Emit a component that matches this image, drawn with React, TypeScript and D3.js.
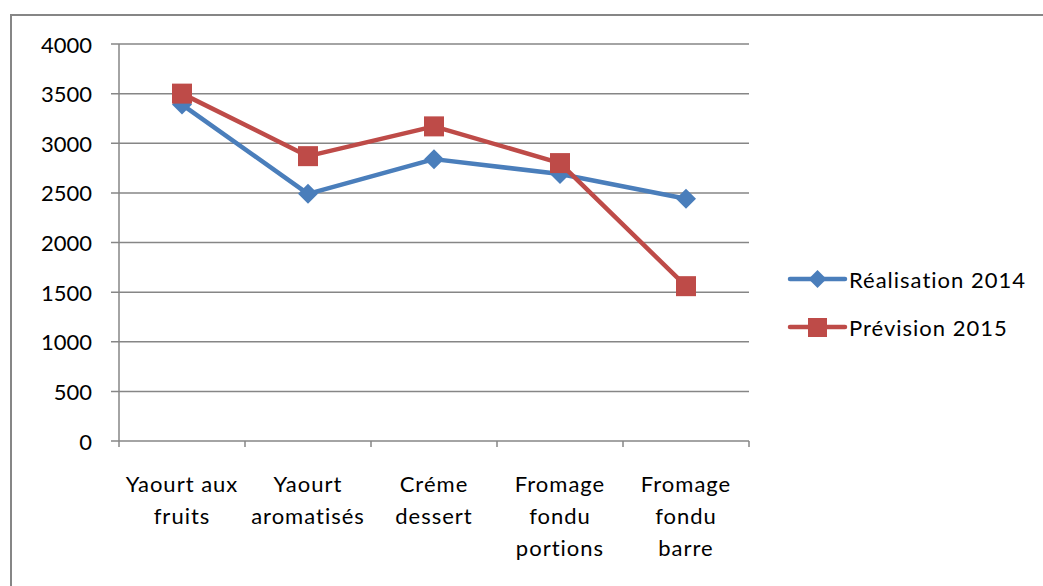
import React from 'react';
import * as d3 from 'd3';

const categories = [
  ['Yaourt aux', 'fruits'],
  ['Yaourt', 'aromatisés'],
  ['Créme', 'dessert'],
  ['Fromage', 'fondu', 'portions'],
  ['Fromage', 'fondu', 'barre'],
];
const realisation2014 = [3390, 2490, 2840, 2690, 2440];
const prevision2015 = [3500, 2870, 3170, 2800, 1560];
const yTicks = [0, 500, 1000, 1500, 2000, 2500, 3000, 3500, 4000];
const seriesNames = ['Réalisation 2014', 'Prévision 2015'];

const BLUE = '#4A7EBB';
const RED = '#BE4B48';
const GRID = '#868686';
const FONT = 'Lato, "Open Sans", sans-serif';

const App: React.FC = () => {
  const width = 1043;
  const height = 586;
  const plot = { left: 119, right: 749, top: 44, bottom: 441 };

  const keys = categories.map((c) => c.join(' '));
  const x = d3.scaleBand<string>().domain(keys).range([plot.left, plot.right]);
  const y = d3.scaleLinear().domain([0, 4000]).range([plot.bottom, plot.top]);
  const cx = (i: number) => x(keys[i])! + x.bandwidth() / 2;

  const line = d3
    .line<number>()
    .x((_, i) => cx(i))
    .y((d) => y(d));

  const diamond = (px: number, py: number, r: number) =>
    `M${px},${py - r}L${px + r},${py}L${px},${py + r}L${px - r},${py}Z`;

  const boundaries = keys.map((k) => x(k)!).concat([plot.right]);

  return (
    <div style={{ position: 'absolute', left: 0, top: 0 }}>
      <svg width={width} height={height} style={{ display: 'block' }}>
        <rect x={0} y={0} width={width} height={height} fill="#fff" />
        <rect x={11} y={15} width={width + 20} height={height + 20} fill="none" stroke={GRID} strokeWidth={2} />

        {/* grid + y ticks */}
        {yTicks.map((t) => (
          <g key={t}>
            <line x1={plot.left - 8} x2={plot.right} y1={y(t)} y2={y(t)} stroke={GRID} strokeWidth={1.5} />
            <text
              x={92}
              y={y(t)}
              textAnchor="end"
              dominantBaseline="central"
              fontFamily={FONT}
              fontSize={22}
              fill="#000"
            >
              {t}
            </text>
          </g>
        ))}
        <line x1={plot.left} x2={plot.left} y1={plot.top} y2={plot.bottom} stroke={GRID} strokeWidth={1.5} />
        {boundaries.map((b, i) => (
          <line key={i} x1={b} x2={b} y1={plot.bottom} y2={plot.bottom + 6} stroke={GRID} strokeWidth={1.5} />
        ))}

        {/* category labels */}
        {categories.map((lines, i) => (
          <text key={i} textAnchor="middle" fontFamily={FONT} fontSize={22} letterSpacing={1} fill="#000">
            {lines.map((l, j) => (
              <tspan key={j} x={cx(i)} y={483 + j * 32} dominantBaseline="central">
                {l}
              </tspan>
            ))}
          </text>
        ))}

        {/* series */}
        <path d={line(realisation2014) || ''} fill="none" stroke={BLUE} strokeWidth={4.5} strokeLinejoin="round" />
        {realisation2014.map((v, i) => (
          <path key={i} d={diamond(cx(i), y(v), 10)} fill={BLUE} />
        ))}
        <path d={line(prevision2015) || ''} fill="none" stroke={RED} strokeWidth={4.5} strokeLinejoin="round" />
        {prevision2015.map((v, i) => (
          <rect key={i} x={cx(i) - 10} y={y(v) - 10} width={20} height={20} fill={RED} />
        ))}

        {/* legend */}
        {seriesNames.map((name, i) => {
          const ly = 279 + i * 48;
          const color = i === 0 ? BLUE : RED;
          return (
            <g key={name}>
              <line x1={790} x2={845} y1={ly} y2={ly} stroke={color} strokeWidth={4.5} strokeLinecap="round" />
              {i === 0 ? (
                <path d={diamond(817.5, ly, 9)} fill={color} />
              ) : (
                <rect x={808} y={ly - 9} width={19} height={19} fill={color} />
              )}
              <text
                x={849}
                y={ly}
                dominantBaseline="central"
                fontFamily={FONT}
                fontSize={22}
                letterSpacing={1}
                fill="#000"
              >
                {name}
              </text>
            </g>
          );
        })}
      </svg>
    </div>
  );
};

export default App;
